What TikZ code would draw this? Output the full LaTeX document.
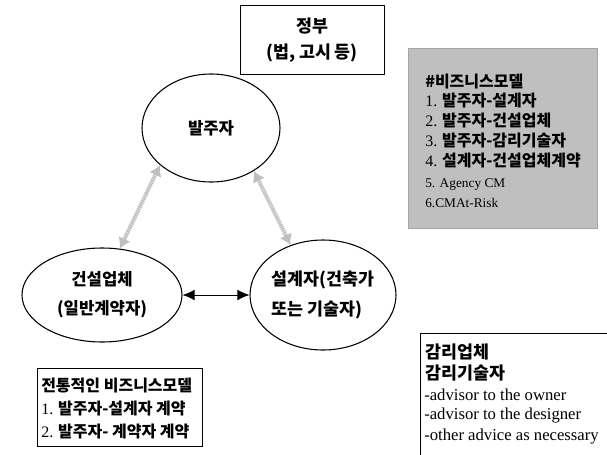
\documentclass[tikz,border=0pt]{standalone}
\usepackage{fontspec}
\setmainfont{Liberation Serif}
\newfontfamily\korfont{Noto Sans CJK KR}
\newcommand{\kor}{\korfont\bfseries}
\usetikzlibrary{shapes.geometric,arrows.meta}
\tikzset{
  party/.style={ellipse,draw,line width=0.8pt,inner sep=0pt,align=center,font=\kor\fontsize{12.5}{21.5}\selectfont},
  govbox/.style={draw,line width=0.6pt,inner sep=0pt,align=center,font=\kor\fontsize{13}{20}\selectfont},
  modelbox/.style={draw=gray!70,fill=gray!50,line width=0.6pt,inner sep=0pt},
  plainbox/.style={draw,line width=0.6pt,inner sep=0pt},
  kortext/.style={anchor=west,inner sep=0pt,font=\kor\fontsize{12}{13}\selectfont},
  entext/.style={anchor=west,inner sep=0pt,font=\rmfamily\fontsize{10}{12}\selectfont},
  deal/.style={line width=0.7pt,{Latex[length=9pt,width=8pt]}-{Latex[length=9pt,width=8pt]}},
  fogline/.style={draw=gray!50,line width=3pt,dash pattern=on 1.2pt off 0.5pt,
    {Latex[length=8pt,width=10pt,fill=gray!50]}-{Latex[length=8pt,width=10pt,fill=gray!50]}},
}
\newcommand{\nr}[1]{{\rmfamily\mdseries #1}}
\begin{document}
\begin{tikzpicture}[x=0.75pt,y=-0.75pt]
\useasboundingbox (0,0) rectangle (607,454);

%parties%%%%%%%%%%%%%%%%%%%%%%%%%%%%%%%%%%%%%%%%%%%%%%%%%
\node[party,minimum width=103.5pt,minimum height=81pt] (owner) at (211,128) {발주자};
\node[party,minimum width=120pt,minimum height=70.5pt] (builder) at (102,295) {건설업체\\(일반계약자)};
\node[party,minimum width=109.5pt,minimum height=82.5pt,align=left,font=\kor\fontsize{13}{23}\selectfont] (designer) at (323,295) {설계자(건축가\\또는 기술자)};

\node[govbox,minimum width=108pt,minimum height=51.75pt] (gov) at (312,40) {정부\\(법, 고시 등)};

%connectors%%%%%%%%%%%%%%%%%%%%%%%%%%%%%%%%%%%%%%%%%%%%%%
\draw[deal] (builder.east) -- (designer.west);
\draw[fogline] (owner.-144) -- (builder.69);
\draw[fogline] (owner.-45) -- (designer.123);

%business models%%%%%%%%%%%%%%%%%%%%%%%%%%%%%%%%%%%%%%%%%
\node[modelbox,minimum width=141.75pt,minimum height=135pt] (models) at (502.5,138) {};
\node[kortext] (m0) at (425,82) {\#비즈니스모델};
\node[kortext] (m1) at (425,101) {\nr{1.} 발주자-설계자};
\node[kortext] (m2) at (425,121) {\nr{2.} 발주자-건설업체};
\node[kortext] (m3) at (425,141) {\nr{3.} 발주자-감리기술자};
\node[kortext] (m4) at (425,161) {\nr{4.} 설계자-건설업체계약};
\node[entext] (m5) at (425,185) {5. Agency CM};
\node[entext] (m6) at (425,203) {6.CMAt-Risk};

%traditional%%%%%%%%%%%%%%%%%%%%%%%%%%%%%%%%%%%%%%%%%%%%%
\node[plainbox,minimum width=123.75pt,minimum height=58.5pt] (trad) at (119.5,407) {};
\node[kortext] (t0) at (41,386) {전통적인 비즈니스모델};
\node[kortext] (t1) at (41,409) {\nr{1.} 발주자-설계자 계약};
\node[kortext] (t2) at (41,432) {\nr{2.} 발주자- 계약자 계약};

%supervision%%%%%%%%%%%%%%%%%%%%%%%%%%%%%%%%%%%%%%%%%%%%%
\node[plainbox,anchor=north west,minimum width=146.25pt,minimum height=95.25pt] (super) at (420,333) {};
\node[kortext,font=\kor\fontsize{13}{14}\selectfont] (s0) at (425,352) {감리업체};
\node[kortext,font=\kor\fontsize{13}{14}\selectfont] (s1) at (425,373) {감리기술자};
\node[entext,font=\rmfamily\fontsize{12.5}{14}\selectfont] (s2) at (424,395) {-advisor to the owner};
\node[entext,font=\rmfamily\fontsize{12.5}{14}\selectfont] (s3) at (424,416) {-advisor to the designer};
\node[entext,font=\rmfamily\fontsize{12.5}{14}\selectfont] (s4) at (424,437) {-other advice as necessary};

\end{tikzpicture}
\end{document}
